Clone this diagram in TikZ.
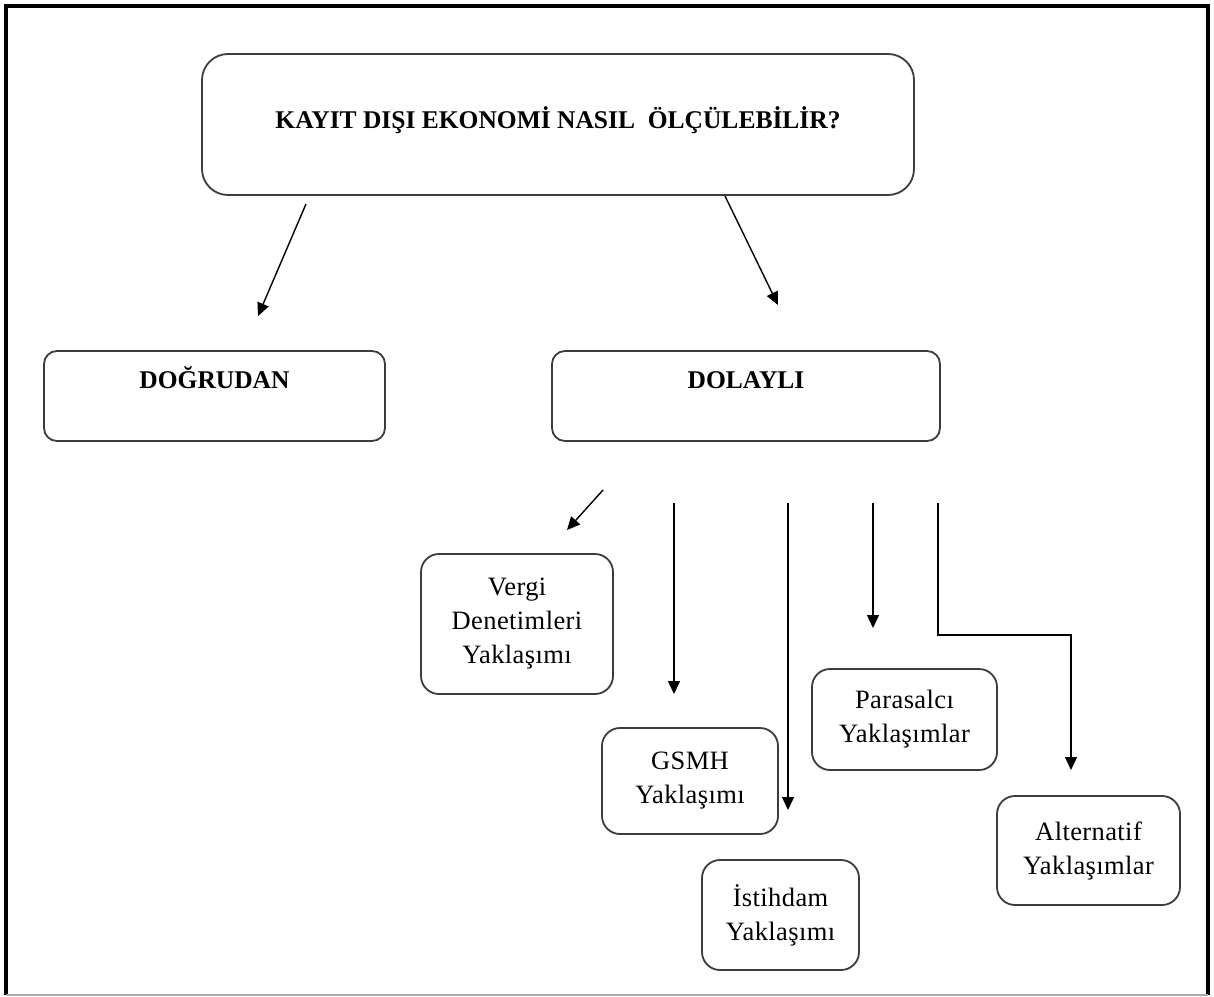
\documentclass[tikz,border=0pt]{standalone}
\usepackage{fontspec}
\setmainfont{Liberation Serif}
\newfontfamily\boxfont[LetterSpace=1.5]{Liberation Serif}
\usetikzlibrary{arrows.meta}
\definecolor{boxgray}{RGB}{60,60,60}
\definecolor{framegray}{RGB}{170,170,170}
\begin{document}
\begin{tikzpicture}[x=1pt,y=-1pt,
  box/.style={draw=boxgray, line width=1.8pt, rounded corners=18pt, inner sep=0pt,
    align=center, font=\boxfont\fontsize{26.5}{34}\selectfont},
  topbox/.style={draw=boxgray, line width=1.8pt, rounded corners=13pt, inner sep=0pt,
    align=center, font=\bfseries\fontsize{25.5}{30}\selectfont, text height=18pt, text depth=34pt},
  conn/.style={line width=1.4pt, -{Triangle[length=13pt,width=12pt]}}]
\useasboundingbox (0,0) rectangle (1214,996);
% outer frame
\draw[line width=4pt] (6,995) -- (6,6) -- (1208,6) -- (1208,995);
\draw[framegray, line width=1.5pt] (6,995) -- (1208,995);
% nodes
\node[draw=boxgray, line width=1.8pt, rounded corners=26pt, inner sep=0pt,
  minimum width=712pt, minimum height=141pt, text height=20pt, text depth=12pt,
  font=\bfseries\fontsize{25.5}{30}\selectfont]
  (title) at (558,124.5) {KAYIT DIŞI EKONOMİ NASIL\ \ ÖLÇÜLEBİLİR?};
\node[topbox, minimum width=341pt, minimum height=90pt] (dogru) at (214.5,396) {DOĞRUDAN};
\node[topbox, minimum width=388pt, minimum height=90pt] (dolay) at (746,396) {DOLAYLI};
\node[box, minimum width=192pt, minimum height=140pt] (vergi) at (517,624) {Vergi\\Denetimleri\\Yaklaşımı};
\node[box, minimum width=176pt, minimum height=106pt] (gsmh) at (690,781) {GSMH\\Yaklaşımı};
\node[box, minimum width=157pt, minimum height=110pt] (istih) at (780.5,915) {İstihdam\\Yaklaşımı};
\node[box, minimum width=185pt, minimum height=101pt] (para) at (904.5,719.5) {Parasalcı\\Yaklaşımlar};
\node[box, minimum width=183pt, minimum height=109pt] (alt) at (1088.5,850.5) {Alternatif\\Yaklaşımlar};
% connector end points
\coordinate (a1s) at (306,204); \coordinate (a1e) at (258,316);
\coordinate (a2s) at (725,196); \coordinate (a2e) at (778,305);
\coordinate (a3s) at (603,490); \coordinate (a3e) at (567,530);
\coordinate (a4s) at (674,503); \coordinate (a4e) at (674,694);
\coordinate (a5s) at (788,503); \coordinate (a5e) at (788,810);
\coordinate (a6s) at (873,503); \coordinate (a6e) at (873,628);
\coordinate (a7s) at (938,503); \coordinate (a7m) at (938,635); \coordinate (a7e) at (1071,770);
% connectors
\draw[conn] (a1s) -- (a1e);
\draw[conn] (a2s) -- (a2e);
\draw[conn] (a3s) -- (a3e);
\draw[conn] (a4s) -- (a4e);
\draw[conn] (a5s) -- (a5e);
\draw[conn] (a6s) -- (a6e);
\draw[conn] (a7s) -- (a7m) -| (a7e);
\end{tikzpicture}
\end{document}
